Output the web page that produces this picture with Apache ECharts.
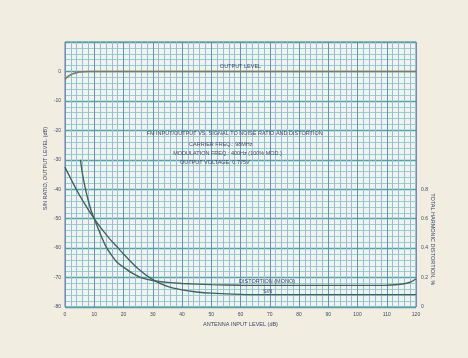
<!DOCTYPE html>
<html>
<head>
<meta charset="utf-8">
<script src="https://cdn.jsdelivr.net/npm/echarts@6/dist/echarts.min.js"></script>
<style>
html,body{margin:0;padding:0;background:#f1ede0;}
#c{width:468px;height:358px;}
</style>
</head>
<body>
<div id="c"></div>
<script>
// ---- data ----
const outputLevel = [[0,-2.7],[1,-1.7],[2,-1.1],[3,-0.7],[4,-0.4],[5,-0.2],[6,-0.1],[8,0],[20,0],[40,0],[60,0],[80,0],[100,0],[120,0]];
const snRatio = [[0,-32.5],[2,-36.5],[4,-40.3],[6,-43.8],[8,-47],[10,-50],[12,-52.8],[15,-56.5],[18,-59.8],[20,-62],[25,-67],[30,-70.7],[35,-73],[40,-74.2],[45,-74.9],[50,-75.3],[60,-75.7],[70,-75.8],[80,-75.8],[90,-75.8],[100,-75.8],[110,-75.8],[120,-75.8]];
const distortion = [[5.3,1.0],[6,0.9],[7,0.8],[8,0.72],[9,0.65],[10,0.6],[12,0.5],[14,0.41],[16,0.35],[18,0.3],[20,0.27],[23,0.23],[26,0.2],[30,0.18],[35,0.167],[40,0.16],[50,0.152],[60,0.148],[70,0.147],[80,0.147],[90,0.147],[100,0.147],[110,0.148],[113,0.151],[116,0.158],[118,0.168],[120,0.19]];
const xTicks = [0,10,20,30,40,50,60,70,80,90,100,110,120];
const notes = [
  {text:'FM INPUT/OUTPUT VS. SIGNAL TO NOISE RATIO AND DISTORTION', x:58, y:-21.1, align:'center'},
  {text:'CARRIER FREQ.: 98MHz', x:42.4, y:-24.8, align:'left'},
  {text:'MODULATION FREQ.: 400Hz (100% MOD.)', x:37, y:-27.9, align:'left'},
  {text:'OUTPUT VOLTAGE: 0.775V', x:39.3, y:-31, align:'left'},
  {text:'OUTPUT LEVEL', x:60, y:1.7, align:'center'},
  {text:'DISTORTION (MONO)', x:59.5, y:-71.4, align:'left'},
  {text:'S/N', x:67.7, y:-74.8, align:'left'}
];

const FONT = 'Liberation Sans';
const TXT = '#3f4868';
const chart = echarts.init(document.getElementById('c'));
chart.setOption({
  backgroundColor:'#f1ede0',
  animation:false,
  grid:{left:65,right:52,top:42,bottom:51,show:true,backgroundColor:'#ecf6f0',borderColor:'#5f7fa0',borderWidth:1},
  xAxis:{type:'value',min:0,max:120,interval:10,
    name:'ANTENNA INPUT LEVEL (dB)',nameLocation:'middle',nameGap:14,
    nameTextStyle:{fontSize:5.5,color:TXT,fontFamily:FONT},
    axisLine:{show:false},axisTick:{show:false},
    axisLabel:{fontSize:5,color:TXT,fontFamily:FONT,margin:5,
      formatter:v=>xTicks.indexOf(v)>=0?String(v):''},
    splitLine:{show:true,lineStyle:{color:'#7c86bc',width:1}},
    minorTick:{show:false,splitNumber:5},
    minorSplitLine:{show:true,lineStyle:{color:'#b4aedb',width:1}}
  },
  yAxis:[
    {type:'value',min:-80,max:10,interval:10,
      axisLine:{show:false},axisTick:{show:false},
      axisLabel:{fontSize:5,color:TXT,fontFamily:FONT,margin:4,formatter:v=>v>0?'':String(v)},
      splitLine:{show:true,lineStyle:{color:'#4aa6a6',width:1.3}},
      minorTick:{show:false,splitNumber:5},
      minorSplitLine:{show:true,lineStyle:{color:'#8fd4ca',width:1}}
    },
    {type:'value',min:0,max:1.8,interval:0.2,position:'right',
      axisLine:{show:false},axisTick:{show:false},
      axisLabel:{fontSize:5,color:TXT,fontFamily:FONT,margin:5,
        formatter:v=>v>0.81?'':(v===0?'0':v.toFixed(1))},
      splitLine:{show:false}
    }
  ],
  series:[
    {type:'line',name:'output',data:outputLevel,yAxisIndex:0,showSymbol:false,smooth:0.3,
      lineStyle:{color:'#7f7b5c',width:1.6}},
    {type:'line',name:'sn',data:snRatio,yAxisIndex:0,showSymbol:false,smooth:0.3,
      lineStyle:{color:'#3f5e60',width:1.3}},
    {type:'line',name:'dist',data:distortion,yAxisIndex:1,showSymbol:false,smooth:0.3,
      lineStyle:{color:'#42645a',width:1.4}}
  ]
});

const g = [];
notes.forEach(n=>{
  const p = chart.convertToPixel({xAxisIndex:0,yAxisIndex:0},[n.x,n.y]);
  g.push({type:'text',x:p[0],y:p[1],style:{text:n.text,fill:TXT,font:'5.5px '+FONT,textAlign:n.align,textVerticalAlign:'middle'}});
});
const gl = chart.convertToPixel({xAxisIndex:0,yAxisIndex:0},[0,-33]);
g.push({type:'text',x:gl[0]-20,y:gl[1],rotation:Math.PI/2,style:{text:'S/N RATIO, OUTPUT LEVEL (dB)',fill:TXT,font:'5.5px '+FONT,textAlign:'center',textVerticalAlign:'middle'}});
const gr = chart.convertToPixel({xAxisIndex:0,yAxisIndex:1},[120,0.46]);
g.push({type:'text',x:gr[0]+17,y:gr[1],rotation:-Math.PI/2,style:{text:'TOTAL HARMONIC DISTORTION, %',fill:TXT,font:'5.5px '+FONT,textAlign:'center',textVerticalAlign:'middle'}});
chart.setOption({graphic:g});
</script>
</body>
</html>
